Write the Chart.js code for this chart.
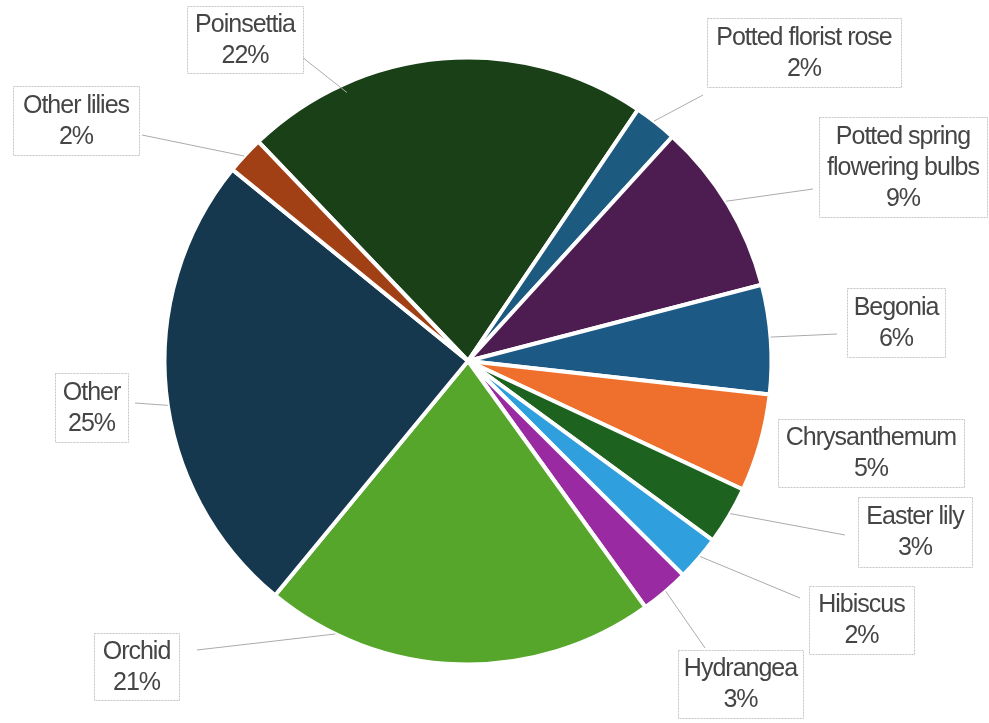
<!DOCTYPE html>
<html>
<head>
<meta charset="utf-8">
<script src="https://cdn.jsdelivr.net/npm/chart.js@4.4.1/dist/chart.umd.min.js"></script>
<style>
  html, body { margin:0; padding:0; background:#fff; }
  canvas { display:block; }
</style>
</head>
<body>
<canvas id="pie" width="989" height="723"></canvas>
<script>

/* DATA */

const categories = [
    "Poinsettia","Potted florist rose","Potted spring flowering bulbs","Begonia",
    "Chrysanthemum","Easter lily","Hibiscus","Hydrangea",
    "Orchid","Other","Other lilies"
];

const shares = [21.6, 2.3, 9.2, 5.8, 5.2, 3.1, 2.4, 2.6, 20.9, 24.9, 2.0];

/* label text split in lines, as shown on the chart */
const labelLines = [
    ["Poinsettia"],
    ["Potted florist rose"],
    ["Potted spring","flowering bulbs"],
    ["Begonia"],
    ["Chrysanthemum"],
    ["Easter lily"],
    ["Hibiscus"],
    ["Hydrangea"],
    ["Orchid"],
    ["Other"],
    ["Other lilies"]
];

/* STYLE */

const colors = [
    '#1a4018','#1c5a80','#4d1c50','#1d5985',
    '#ef702d','#1e621f','#2f9fde','#9a2aa2',
    '#55a62b','#15384f','#a13f15'
];

/* box = [left, top, right, bottom], from = leader start, frac = where on the slice it points */
const labelBoxes = [
    {box:[187,6,303,73],   from:[302,57],  frac:0.25, depth:0.97},
    {box:[707,18,901,87],  from:[703,95],  frac:0.45, depth:1},
    {box:[819,117,987,217],from:[813,189], frac:0.48, depth:1},
    {box:[847,288,945,357],from:[837,334], frac:0.48, depth:1},
    {box:[778,419,964,487],from:null,      frac:0.5,  depth:1},
    {box:[858,497,972,567],from:[845,535], frac:0.46, depth:1},
    {box:[809,586,914,654],from:[800,598], frac:0.45, depth:1},
    {box:[678,650,803,718],from:[705,648], frac:0.48, depth:1},
    {box:[94,633,179,700], from:[197,650], frac:0.82, depth:1},
    {box:[55,373,128,442], from:[135,403], frac:0.47, depth:1},
    {box:[13,86,139,155],  from:[142,135], frac:0.47, depth:1}
];

/* LABEL PLUGIN */

const total = shares.reduce((a,b)=>a+b,0);

const calloutPlugin = {
    id:'callouts',
    afterDraw(chart){
        const ctx = chart.ctx;
        const arcs = chart.getDatasetMeta(0).data;
        ctx.save();

        arcs.forEach((arc,i)=>{
            const L = labelBoxes[i];
            const [x0,y0,x1,y1] = L.box;

            /* leader line */
            if(L.from){
                const a = arc.startAngle + L.frac*(arc.endAngle-arc.startAngle);
                const r = arc.outerRadius*L.depth;
                ctx.beginPath();
                ctx.setLineDash([]);
                ctx.strokeStyle = '#ababab';
                ctx.lineWidth = 1;
                ctx.moveTo(L.from[0],L.from[1]);
                ctx.lineTo(arc.x+Math.cos(a)*r, arc.y+Math.sin(a)*r);
                ctx.stroke();
            }

            /* box */
            ctx.fillStyle = '#ffffff';
            ctx.fillRect(x0,y0,x1-x0,y1-y0);
            ctx.setLineDash([2,1]);
            ctx.strokeStyle = '#c4c4c4';
            ctx.lineWidth = 1;
            ctx.strokeRect(x0+0.5,y0+0.5,x1-x0,y1-y0);

            /* text */
            const lines = labelLines[i].concat([Math.round(shares[i]/total*100)+'%']);
            const lh = 31;
            const cx = (x0+x1)/2;
            const cy = (y0+y1)/2;
            ctx.font = '25px "Liberation Sans", Arial, sans-serif';
            ctx.letterSpacing = '-1px';
            ctx.fillStyle = '#454545';
            ctx.textAlign = 'center';
            ctx.textBaseline = 'middle';
            lines.forEach((t,k)=>{
                ctx.fillText(t, cx, cy + (k-(lines.length-1)/2)*lh + 1);
            });
        });

        ctx.restore();
    }
};

/* CHART */

new Chart(document.getElementById('pie'),{

    type:'pie',

    data:{
        labels:categories,
        datasets:[{
            data:shares,
            backgroundColor:colors,
            borderColor:'#ffffff',
            borderWidth:4
        }]
    },

    options:{
        responsive:false,
        animation:false,
        rotation:-43.7,
        radius:303.5,
        layout:{ padding:{left:0,right:53,top:0,bottom:1} },
        plugins:{
            legend:{display:false},
            tooltip:{enabled:false}
        }
    },

    plugins:[calloutPlugin]

});

</script>
</body>
</html>
